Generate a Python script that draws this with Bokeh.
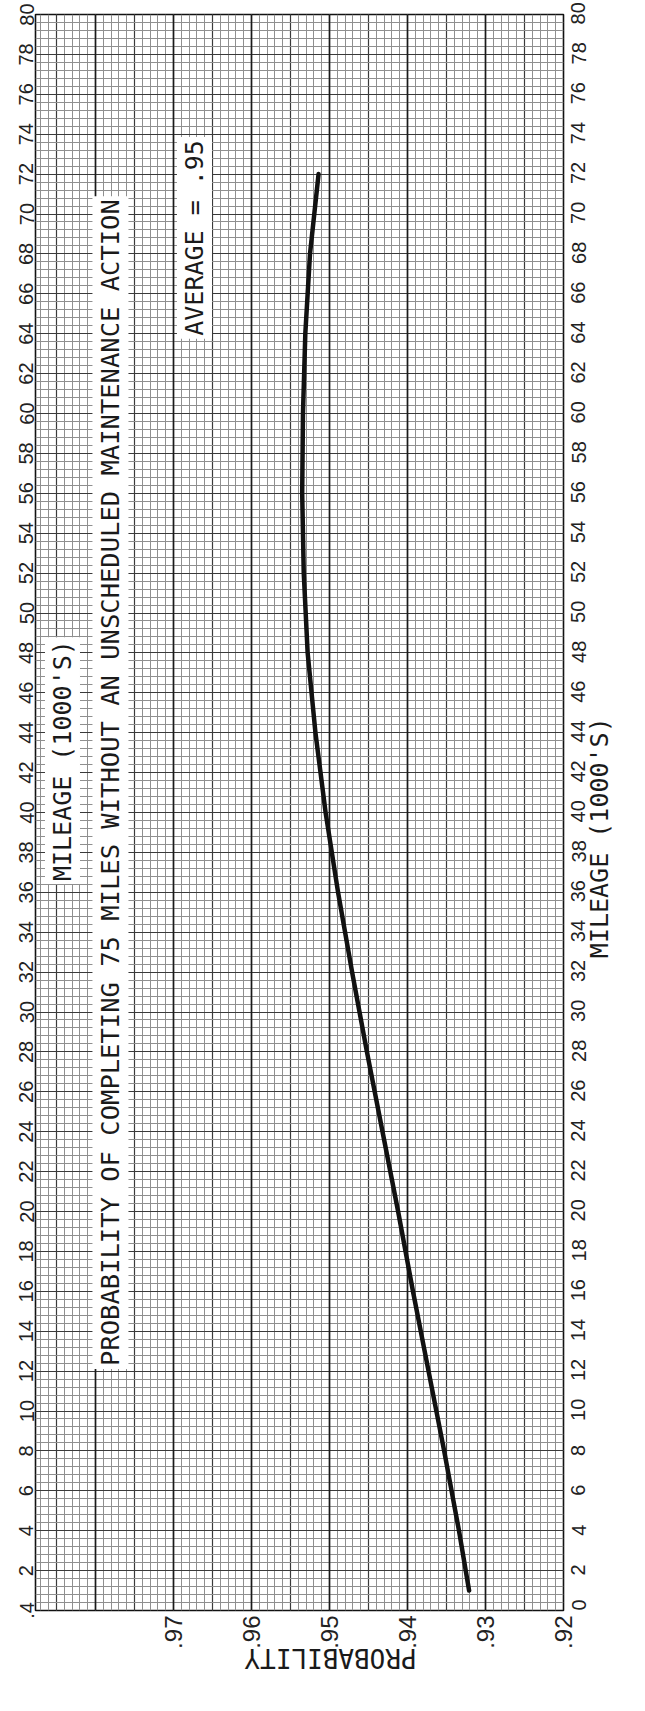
from math import pi
from bokeh.plotting import figure
from bokeh.models import (Range1d, FixedTicker, SingleIntervalTicker, LinearAxis,
                          Grid, Label)
from bokeh.embed import file_html
from bokeh.resources import INLINE

# ---------------- data ----------------
mileage = [1, 4, 8, 12, 16, 20, 24, 28, 32, 36, 40, 44, 48, 52, 56, 60, 64, 68, 72]
probability = [0.9321, 0.9334, 0.9353, 0.9373, 0.9393, 0.9412, 0.9432, 0.9452,
               0.9471, 0.9489, 0.9505, 0.9518, 0.9528, 0.9533, 0.9535, 0.9534,
               0.9531, 0.9525, 0.9514]

prob_ticks = [0.92, 0.93, 0.94, 0.95, 0.96, 0.97]
prob_tick_labels = [".92", ".93", ".94", ".95", ".96", ".97"]
corner_label = ".4"
mileage_ticks_left = list(range(0, 81, 2))
mileage_ticks_right = list(range(0, 81, 2))

title_text = "PROBABILITY OF COMPLETING 75 MILES WITHOUT AN UNSCHEDULED MAINTENANCE ACTION"
inner_mileage_text = "MILEAGE (1000'S)"
average_text = "AVERAGE = .95"
mileage_axis_text = "MILEAGE (1000'S)"
prob_axis_text = "PROBABILITY"

# layout constants (where outer titles start along their axes)
mileage_title_start = 32.7
prob_title_end = 0.9609
# rotated right-hand labels start at their anchor; half a label length in
# mileage units re-centres them on their grid line
half_digit = 0.25

# ---------------- figure ----------------
p = figure(width=633, height=1692,
           x_range=Range1d(0.98769, 0.92), y_range=Range1d(0, 80),
           output_backend="svg", toolbar_location=None,
           min_border_left=35, min_border_right=70,
           min_border_top=14, min_border_bottom=82)

p.background_fill_color = "white"
p.border_fill_color = "white"
p.outline_line_color = "#111111"
p.outline_line_width = 1.6

NUM_FONT = "Liberation Sans"
NARROW = "Liberation Sans Narrow, Liberation Sans"
MONO = "DejaVu Sans Mono"


def plain_axis(ax):
    ax.axis_line_color = None
    ax.major_tick_line_color = None
    ax.minor_tick_line_color = None
    ax.major_tick_out = 0
    ax.major_tick_in = 0
    ax.minor_tick_out = 0
    ax.minor_tick_in = 0
    ax.major_label_text_color = "#222222"


# bottom axis (probability)
xa = p.xaxis[0]
plain_axis(xa)
xa.ticker = FixedTicker(ticks=prob_ticks)
xa.major_label_overrides = dict(zip(prob_ticks, prob_tick_labels))
xa.major_label_orientation = pi / 2
xa.major_label_text_font = NUM_FONT
xa.major_label_text_font_size = "24px"
xa.major_label_standoff = 5

# second bottom axis carrying the (upside-down) PROBABILITY title
xb = LinearAxis(ticker=FixedTicker(ticks=[prob_title_end]))
plain_axis(xb)
xb.major_label_overrides = {prob_title_end: prob_axis_text}
xb.major_label_orientation = pi
xb.major_label_text_font = MONO
xb.major_label_text_font_size = "26px"
xb.major_label_text_color = "#1a1a1a"
xb.major_label_standoff = 6
p.add_layout(xb, "below")

# left axis (mileage), labels centred on their lines
ya = p.yaxis[0]
plain_axis(ya)
ya.ticker = FixedTicker(ticks=mileage_ticks_left)
ya.major_label_overrides = {0: corner_label}
ya.major_label_orientation = "vertical"
ya.major_label_text_font = NARROW
ya.major_label_text_font_size = "20px"
ya.major_label_standoff = 2

# right axis (mileage)
right_pos = []
right_txt = {}
for t in mileage_ticks_right:
    pos = t if t == 0 else t - half_digit * len(str(t))
    right_pos.append(pos)
    right_txt[pos] = str(t)

ra = LinearAxis(ticker=FixedTicker(ticks=right_pos))
plain_axis(ra)
ra.major_label_overrides = right_txt
ra.major_label_orientation = pi / 2
ra.major_label_text_font = NARROW
ra.major_label_text_font_size = "20px"
ra.major_label_standoff = 15
p.add_layout(ra, "right")

# second right axis carrying the MILEAGE title
rb = LinearAxis(ticker=FixedTicker(ticks=[mileage_title_start]))
plain_axis(rb)
rb.major_label_overrides = {mileage_title_start: mileage_axis_text}
rb.major_label_orientation = pi / 2
rb.major_label_text_font = MONO
rb.major_label_text_font_size = "25px"
rb.major_label_text_color = "#1a1a1a"
rb.major_label_standoff = 4
p.add_layout(rb, "right")

# graph-paper grid
p.xgrid.ticker = SingleIntervalTicker(interval=0.005, num_minor_ticks=5)
p.xgrid.grid_line_color = "#3a3a3a"
p.xgrid.grid_line_width = 1.2
p.xgrid.minor_grid_line_color = "#8f8f8f"
p.xgrid.minor_grid_line_width = 1.0

p.ygrid.ticker = SingleIntervalTicker(interval=2, num_minor_ticks=5)
p.ygrid.grid_line_color = "#3a3a3a"
p.ygrid.grid_line_width = 1.2
p.ygrid.minor_grid_line_color = "#8f8f8f"
p.ygrid.minor_grid_line_width = 1.0

heavy_x = Grid(dimension=0, ticker=SingleIntervalTicker(interval=0.01),
               grid_line_color="#1a1a1a", grid_line_width=1.6)
p.add_layout(heavy_x)

# curve
p.line(probability, mileage, line_color="#111111", line_width=4.5,
       line_cap="round", line_join="round")


# in-plot texts on white strips
def add_label(x, y, text, size):
    lab = Label(x=x, y=y, text=text, angle=pi / 2,
                text_align="center", text_baseline="middle",
                text_font=MONO, text_font_size=size, text_color="#1a1a1a",
                background_fill_color="white", padding=3)
    p.add_layout(lab)


add_label(0.97808, 41.5, title_text, "25.5px")
add_label(0.98423, 42.6, inner_mileage_text, "25px")
add_label(0.96731, 68.8, average_text, "25px")

open("out.html", "w").write(file_html(p, INLINE))
